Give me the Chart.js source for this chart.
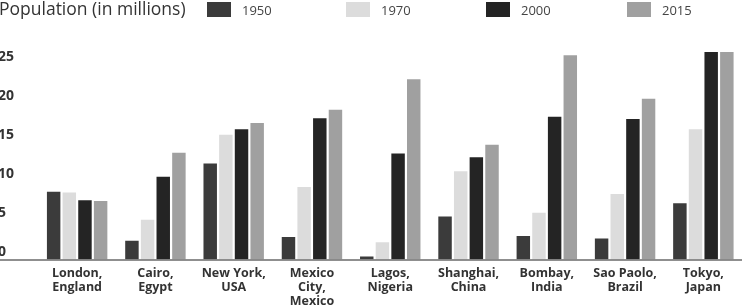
<!DOCTYPE html>
<html>
<head>
<meta charset="utf-8">
<script src="https://cdn.jsdelivr.net/npm/chart.js@4.4.1/dist/chart.umd.min.js"></script>
<style>
  html, body { margin: 0; padding: 0; background: #fff; overflow: hidden; }
  #wrap { position: absolute; left: -18px; top: 0; width: 762px; height: 308px; }
</style>
</head>
<body>
<div id="wrap"><canvas id="pop"></canvas></div>
<script>
'use strict';

// categories + series (millions)
const cities = [
  ['London,', 'England'], ['Cairo,', 'Egypt'], ['New York,', 'USA'],
  ['Mexico', 'City,', 'Mexico'], ['Lagos,', 'Nigeria'], ['Shanghai,', 'China'],
  ['Bombay,', 'India'], ['Sao Paolo,', 'Brazil'], ['Tokyo,', 'Japan']
];
const years = ['1950', '1970', '2000', '2015'];
const pop1950 = [8.7, 2.4, 12.3, 2.9, 0.4, 5.5, 3.0, 2.7, 7.2];
const pop1970 = [8.6, 5.1, 16.0, 9.3, 2.2, 11.3, 6.0, 8.4, 16.7];
const pop2000 = [7.6, 10.6, 16.7, 18.1, 13.6, 13.1, 18.3, 18.0, 26.6];
const pop2015 = [7.5, 13.7, 17.5, 19.2, 23.1, 14.7, 26.2, 20.6, 26.6];
const yTicks = [0, 5, 10, 15, 20, 25];

const colors = ['#3b3b3b', '#dcdcdc', '#242424', '#a0a0a0'];
const textColor = '#333';
const labelFont = "'Open Sans', 'DejaVu Sans', sans-serif";

// header: title + legend drawn inline like the original
const headerPlugin = {
  id: 'header',
  afterDraw(chart) {
    const ctx = chart.ctx;
    ctx.save();
    ctx.fillStyle = textColor;
    ctx.font = "17.5px " + labelFont;
    ctx.textBaseline = 'middle';
    ctx.textAlign = 'left';
    ctx.fillText('Population (in millions)', 17, 10);
    const boxX = [225, 364, 504, 645];
    ctx.font = "13px " + labelFont;
    chart.data.datasets.forEach((ds, i) => {
      ctx.fillStyle = ds.backgroundColor;
      ctx.fillRect(boxX[i], 2, 24, 15);
      ctx.fillStyle = '#444';
      ctx.fillText(ds.label, boxX[i] + 35, 11);
    });
    ctx.restore();
  }
};

// long grey base line running the full width
const baseLinePlugin = {
  id: 'baseLine',
  afterDatasetsDraw(chart) {
    const ctx = chart.ctx;
    const y = chart.scales.y.getPixelForValue(0);
    ctx.save();
    ctx.strokeStyle = '#6a6a6a';
    ctx.lineWidth = 1.5;
    ctx.beginPath();
    ctx.moveTo(0, y + 0.5);
    ctx.lineTo(chart.width, y + 0.5);
    ctx.stroke();
    ctx.restore();
  }
};

const series = [pop1950, pop1970, pop2000, pop2015];

new Chart(document.getElementById('pop').getContext('2d'), {
  type: 'bar',
  data: {
    labels: cities,
    datasets: series.map((d, i) => ({
      label: years[i],
      data: d,
      backgroundColor: colors[i],
      borderWidth: 0,
      categoryPercentage: 0.8,
      barPercentage: 0.86
    }))
  },
  options: {
    responsive: true,
    maintainAspectRatio: false,
    animation: false,
    layout: { padding: { top: 25.5, right: 1.5, left: 16, bottom: 0 } },
    plugins: { legend: { display: false }, tooltip: { enabled: false } },
    scales: {
      x: {
        grid: { display: false, drawTicks: false },
        border: { display: false },
        ticks: {
          color: textColor, padding: 7, maxRotation: 0, autoSkip: false,
          font: { family: labelFont, size: 12.5, weight: 'bold', lineHeight: 1.12 }
        },
        afterFit(scale) { scale.height = 48.5; }
      },
      y: {
        min: 0, max: 30,
        grid: { display: false, drawTicks: false },
        border: { display: false },
        afterBuildTicks(scale) { scale.ticks = yTicks.map(v => ({ value: v })); },
        ticks: {
          color: textColor, padding: 6, labelOffset: -7, crossAlign: 'far',
          font: { family: labelFont, size: 14, weight: 'bold' }
        },
        afterFit(scale) { scale.width = 40; }
      }
    }
  },
  plugins: [headerPlugin, baseLinePlugin]
});
</script>
</body>
</html>
